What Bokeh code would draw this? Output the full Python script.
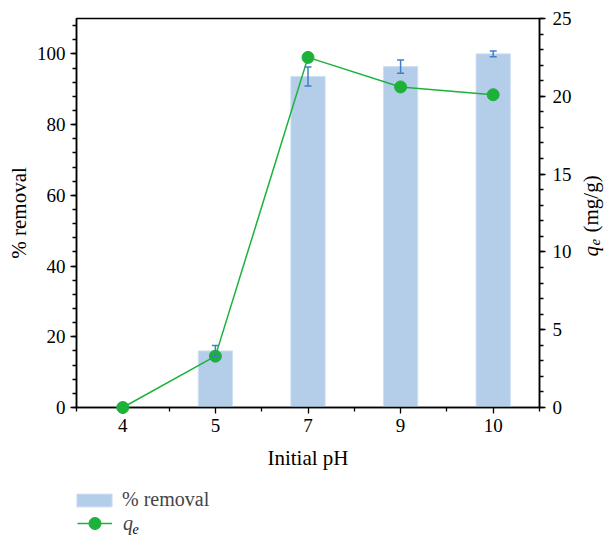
import math
from bokeh.plotting import figure
from bokeh.layouts import column, row
from bokeh.models import (Range1d, LinearAxis, FixedTicker, SingleIntervalTicker, Whisker,
                          TeeHead, ColumnDataSource, Legend, LegendItem, Label)
from bokeh.embed import file_html
from bokeh.resources import INLINE

# ---- data ----
ph_labels = ["4", "5", "7", "9", "10"]
removal = [0.0, 16.0, 93.6, 96.4, 100.0]
removal_err = [0.0, 1.5, 2.7, 1.9, 0.8]
qe = [0.0, 3.3, 22.5, 20.6, 20.1]

FONT = "Liberation Serif"
BAR = "#b4cee9"
BAR_EDGE = "#cddff2"
ERR = "#3f7fc6"
GREEN = "#1cb23a"

MAIN_W, MAIN_H = 577, 480
TOTAL_W, TOTAL_H = 609, 535
FRAME_BOTTOM = 407

xpos = [i + 0.5 for i in range(len(ph_labels))]
src = ColumnDataSource(dict(x=xpos, removal=removal, qe=qe))
ex, eu, el = [], [], []
for x, r, e in zip(xpos, removal, removal_err):
    if e > 0:
        ex.append(x); eu.append(r + e); el.append(r - e)
err_src = ColumnDataSource(dict(x=ex, upper=eu, lower=el))

p = figure(width=MAIN_W, height=MAIN_H, x_range=Range1d(0, len(ph_labels)), y_range=Range1d(0, 110),
           output_backend="svg", toolbar_location=None,
           min_border_left=76, min_border_right=MAIN_W - 539, min_border_top=18,
           min_border_bottom=MAIN_H - FRAME_BOTTOM)
p.extra_y_ranges = {"qe": Range1d(0, 25)}
p.xgrid.visible = False
p.ygrid.visible = False
p.outline_line_color = "black"
p.outline_line_width = 1.5
p.background_fill_color = "white"
p.border_fill_color = "white"

bars = p.vbar(x="x", top="removal", width=0.37, source=src, fill_color=BAR,
              line_color=BAR_EDGE, line_width=1)

wh = Whisker(base="x", upper="upper", lower="lower", source=err_src,
             line_color=ERR, line_width=1.5, level="overlay",
             upper_head=TeeHead(size=7, line_color=ERR, line_width=1.5),
             lower_head=TeeHead(size=7, line_color=ERR, line_width=1.5))
p.add_layout(wh)

line_r = p.line(x="x", y="qe", source=src, y_range_name="qe", line_color=GREEN,
                line_width=1.5, level="overlay")
scat_r = p.scatter(x="x", y="qe", source=src, y_range_name="qe", size=12,
                   fill_color=GREEN, line_color=GREEN, level="overlay")

right = LinearAxis(y_range_name="qe", ticker=SingleIntervalTicker(interval=5, num_minor_ticks=5))
p.add_layout(right, "right")

xa = p.xaxis[0]
xa.ticker = FixedTicker(ticks=xpos, minor_ticks=list(range(0, len(ph_labels) + 1)))
xa.major_label_overrides = {x: lab for x, lab in zip(xpos, ph_labels)}
xa.axis_label = "Initial pH"
xa.axis_label_standoff = 11
xa.major_label_standoff = 5

ya = p.yaxis[0]
ya.ticker = SingleIntervalTicker(interval=20, num_minor_ticks=5)
ya.axis_label = "% removal"
ya.axis_label_standoff = 3
ya.major_label_standoff = 5
right.major_label_standoff = 7

for ax in (xa, ya, right):
    ax.axis_line_color = "black"
    ax.axis_line_width = 1.5
    ax.major_tick_line_color = "black"
    ax.minor_tick_line_color = "black"
    ax.major_tick_line_width = 1.3
    ax.minor_tick_line_width = 1.3
    ax.major_tick_out = 6
    ax.major_tick_in = 0
    ax.minor_tick_out = 4
    ax.minor_tick_in = 0
    ax.major_label_text_font = FONT
    ax.major_label_text_font_size = "19px"
    ax.major_label_text_color = "black"
    ax.axis_label_text_font = FONT
    ax.axis_label_text_font_size = "21px"
    ax.axis_label_text_font_style = "normal"
    ax.axis_label_text_color = "black"


def blank_fig(w, h):
    f = figure(width=w, height=h, x_range=Range1d(0, 1), y_range=Range1d(0, 1),
               output_backend="svg", toolbar_location=None, x_axis_location=None,
               y_axis_location=None, min_border=0, min_border_left=0, min_border_right=0,
               min_border_top=0, min_border_bottom=0)
    f.grid.visible = False
    f.outline_line_color = None
    f.background_fill_color = "white"
    f.border_fill_color = "white"
    return f


def lab(fig, **kw):
    base = dict(x_units="screen", y_units="screen", text_font=FONT, text_color="black",
                text_baseline="alphabetic", text_align="left")
    base.update(kw)
    fig.add_layout(Label(**base))


# ---- right axis label: q_e (mg/g) (frame of this strip is aligned with the main frame) ----
pr = blank_fig(TOTAL_W - MAIN_W, MAIN_H)
lab(pr, x=13, y=FRAME_BOTTOM - 256, text="q", angle=math.pi / 2,
    text_font_style="italic", text_font_size="21px")
lab(pr, x=17, y=FRAME_BOTTOM - 245, text="e", angle=math.pi / 2,
    text_font_style="italic", text_font_size="15px")
lab(pr, x=13, y=FRAME_BOTTOM - 232, text="(mg/g)", angle=math.pi / 2,
    text_font_size="21px")

# ---- legend strip (dummy renderers lie outside the visible range) ----
LEG_H = TOTAL_H - MAIN_H
pl = blank_fig(TOTAL_W, LEG_H)
d_bar = pl.vbar(x=[-5], top=[-5], width=0.37, fill_color=BAR, line_color=BAR_EDGE, line_width=1)
d_line = pl.line(x=[-5, -4], y=[-5, -5], line_color=GREEN, line_width=1.5)
d_scat = pl.scatter(x=[-5], y=[-5], size=12, fill_color=GREEN, line_color=GREEN)

leg1 = Legend(items=[LegendItem(label="% removal", renderers=[d_bar])], location=(72, 24),
              glyph_width=44, glyph_height=16, label_standoff=6, padding=0, margin=0, spacing=0,
              border_line_alpha=0, background_fill_alpha=0, label_text_font=FONT,
              label_text_font_size="20px", label_height=16)
leg2 = Legend(items=[LegendItem(label="q", renderers=[d_line, d_scat])], location=(77, -3),
              glyph_width=35, glyph_height=30, label_standoff=11, padding=0, margin=0, spacing=0,
              border_line_alpha=0, background_fill_alpha=0, label_text_font=FONT,
              label_text_font_style="italic", label_text_font_size="20px", label_height=16)
pl.add_layout(leg1, "center")
pl.add_layout(leg2, "center")
lab(pl, x=132, y=7, text="e", text_font_style="italic", text_font_size="14px")

layout = column(row(p, pr, spacing=0), pl, spacing=0)
open("out.html", "w").write(file_html(layout, INLINE))
